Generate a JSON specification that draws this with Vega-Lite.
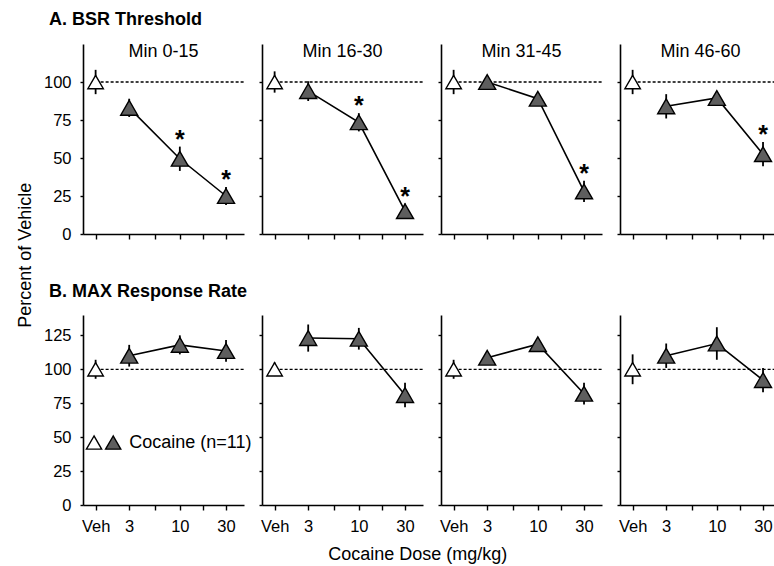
{
"$schema":"https://vega.github.io/schema/vega-lite/v6.json",
"background":"white",
"padding":{"left":16,"top":10,"right":0,"bottom":0},
"autosize":{"type":"pad"},
"data":{"values":[
{"row":"A","period":"Min 0-15","dose":"Veh","v":100,"lo":92,"hi":108,"sig":false},
{"row":"A","period":"Min 0-15","dose":"3","v":83,"lo":77,"hi":89,"sig":false},
{"row":"A","period":"Min 0-15","dose":"10","v":49.5,"lo":41.5,"hi":57.5,"sig":true},
{"row":"A","period":"Min 0-15","dose":"30","v":25,"lo":19,"hi":31,"sig":true},
{"row":"A","period":"Min 16-30","dose":"Veh","v":100,"lo":93,"hi":107,"sig":false},
{"row":"A","period":"Min 16-30","dose":"3","v":94,"lo":87.5,"hi":100.5,"sig":false},
{"row":"A","period":"Min 16-30","dose":"10","v":73.5,"lo":67.5,"hi":79.5,"sig":true},
{"row":"A","period":"Min 16-30","dose":"30","v":15,"lo":10,"hi":20,"sig":true},
{"row":"A","period":"Min 31-45","dose":"Veh","v":100,"lo":92,"hi":108,"sig":false},
{"row":"A","period":"Min 31-45","dose":"3","v":100,"lo":97,"hi":103,"sig":false},
{"row":"A","period":"Min 31-45","dose":"10","v":89,"lo":86,"hi":92,"sig":false},
{"row":"A","period":"Min 31-45","dose":"30","v":28,"lo":21,"hi":35,"sig":true},
{"row":"A","period":"Min 46-60","dose":"Veh","v":100,"lo":92,"hi":108,"sig":false},
{"row":"A","period":"Min 46-60","dose":"3","v":84,"lo":76,"hi":92,"sig":false},
{"row":"A","period":"Min 46-60","dose":"10","v":89.5,"lo":86.5,"hi":92.5,"sig":false},
{"row":"A","period":"Min 46-60","dose":"30","v":52.5,"lo":44.5,"hi":60.5,"sig":true},
{"row":"B","period":"Min 0-15","dose":"Veh","v":100,"lo":93,"hi":107,"sig":false},
{"row":"B","period":"Min 0-15","dose":"3","v":110,"lo":102,"hi":118,"sig":false},
{"row":"B","period":"Min 0-15","dose":"10","v":118,"lo":111,"hi":125,"sig":false},
{"row":"B","period":"Min 0-15","dose":"30","v":113.5,"lo":105.5,"hi":121.5,"sig":false},
{"row":"B","period":"Min 16-30","dose":"Veh","v":100,"lo":95,"hi":105,"sig":false},
{"row":"B","period":"Min 16-30","dose":"3","v":123,"lo":113,"hi":133,"sig":false},
{"row":"B","period":"Min 16-30","dose":"10","v":122.5,"lo":114.5,"hi":130.5,"sig":false},
{"row":"B","period":"Min 16-30","dose":"30","v":81,"lo":72,"hi":90,"sig":false},
{"row":"B","period":"Min 31-45","dose":"Veh","v":100,"lo":93,"hi":107,"sig":false},
{"row":"B","period":"Min 31-45","dose":"3","v":108.5,"lo":105.5,"hi":111.5,"sig":false},
{"row":"B","period":"Min 31-45","dose":"10","v":118.5,"lo":115.5,"hi":121.5,"sig":false},
{"row":"B","period":"Min 31-45","dose":"30","v":82,"lo":74,"hi":90,"sig":false},
{"row":"B","period":"Min 46-60","dose":"Veh","v":100,"lo":89,"hi":111,"sig":false},
{"row":"B","period":"Min 46-60","dose":"3","v":110,"lo":101,"hi":119,"sig":false},
{"row":"B","period":"Min 46-60","dose":"10","v":119,"lo":107,"hi":131,"sig":false},
{"row":"B","period":"Min 46-60","dose":"30","v":92,"lo":83,"hi":101,"sig":false}
]},
"columns":4,
"bounds":"flush",
"spacing":{"row":81,"column":18},
"concat":[
{"width":161,"height":190,
 "title":{"text":"A. BSR Threshold","anchor":"start","frame":"group","dx":-34,"offset":0,"fontSize":18,"fontWeight":"bold","baseline":"alphabetic","color":"black"},
 "transform":[{"filter":"datum.row=='A' && datum.period=='Min 0-15'"},{"calculate":"datum.dose=='Veh' ? 1.35 : toNumber(datum.dose)","as":"x"}],
 "encoding":{"x":{"field":"x","type":"quantitative","scale":{"type":"log","domain":[1,46],"nice":false},"axis":{"values":[1.35,3,5.477,10,17.32,30],"labels":false,"title":null}},
  "y":{"field":"v","type":"quantitative","scale":{"domain":[0,125],"nice":false,"zero":false},"axis":{"values":[0,25,50,75,100],"title":"Percent of Vehicle","titleX":-49,"titleY":210.7}}},
 "layer":[
  {"transform":[{"filter":"datum.dose=='Veh'"}],"mark":{"type":"rule","strokeDash":[3,2],"strokeWidth":1.3,"color":"black"},"encoding":{"x":{"datum":1.35},"x2":{"datum":46},"y":{"datum":100}}},
  {"mark":{"type":"rule","strokeWidth":1.8,"color":"black"},"encoding":{"y":{"field":"lo","type":"quantitative"},"y2":{"field":"hi"}}},
  {"transform":[{"filter":"datum.dose!='Veh'"}],"mark":{"type":"line","color":"black","strokeWidth":1.6}},
  {"transform":[{"filter":"datum.dose=='Veh'"}],"mark":{"type":"point","shape":"triangle-up","filled":true,"fill":"white","stroke":"black","strokeWidth":1.4,"size":240,"opacity":1}},
  {"transform":[{"filter":"datum.dose!='Veh'"}],"mark":{"type":"point","shape":"triangle-up","filled":true,"fill":"#5e5e5e","stroke":"black","strokeWidth":1.4,"size":290,"opacity":1}},
  {"transform":[{"filter":"datum.sig"}],"mark":{"type":"text","text":"*","fontSize":25,"fontWeight":"bold","baseline":"alphabetic","dy":1,"color":"black"},"encoding":{"y":{"field":"hi","type":"quantitative"}}},
  {"transform":[{"filter":"datum.dose=='Veh'"}],"mark":{"type":"text","fontSize":18,"align":"center","baseline":"middle","color":"black"},"encoding":{"x":{"datum":6.78},"y":{"datum":120},"text":{"field":"period"}}}
 ]},
{"width":161,"height":190,
 "transform":[{"filter":"datum.row=='A' && datum.period=='Min 16-30'"},{"calculate":"datum.dose=='Veh' ? 1.35 : toNumber(datum.dose)","as":"x"}],
 "encoding":{"x":{"field":"x","type":"quantitative","scale":{"type":"log","domain":[1,46],"nice":false},"axis":{"values":[1.35,3,5.477,10,17.32,30],"labels":false,"title":null}},
  "y":{"field":"v","type":"quantitative","scale":{"domain":[0,125],"nice":false,"zero":false},"axis":{"values":[0,25,50,75,100],"labels":false,"title":null}}},
 "layer":[
  {"transform":[{"filter":"datum.dose=='Veh'"}],"mark":{"type":"rule","strokeDash":[3,2],"strokeWidth":1.3,"color":"black"},"encoding":{"x":{"datum":1.35},"x2":{"datum":46},"y":{"datum":100}}},
  {"mark":{"type":"rule","strokeWidth":1.8,"color":"black"},"encoding":{"y":{"field":"lo","type":"quantitative"},"y2":{"field":"hi"}}},
  {"transform":[{"filter":"datum.dose!='Veh'"}],"mark":{"type":"line","color":"black","strokeWidth":1.6}},
  {"transform":[{"filter":"datum.dose=='Veh'"}],"mark":{"type":"point","shape":"triangle-up","filled":true,"fill":"white","stroke":"black","strokeWidth":1.4,"size":240,"opacity":1}},
  {"transform":[{"filter":"datum.dose!='Veh'"}],"mark":{"type":"point","shape":"triangle-up","filled":true,"fill":"#5e5e5e","stroke":"black","strokeWidth":1.4,"size":290,"opacity":1}},
  {"transform":[{"filter":"datum.sig"}],"mark":{"type":"text","text":"*","fontSize":25,"fontWeight":"bold","baseline":"alphabetic","dy":1,"color":"black"},"encoding":{"y":{"field":"hi","type":"quantitative"}}},
  {"transform":[{"filter":"datum.dose=='Veh'"}],"mark":{"type":"text","fontSize":18,"align":"center","baseline":"middle","color":"black"},"encoding":{"x":{"datum":6.78},"y":{"datum":120},"text":{"field":"period"}}}
 ]},
{"width":161,"height":190,
 "transform":[{"filter":"datum.row=='A' && datum.period=='Min 31-45'"},{"calculate":"datum.dose=='Veh' ? 1.35 : toNumber(datum.dose)","as":"x"}],
 "encoding":{"x":{"field":"x","type":"quantitative","scale":{"type":"log","domain":[1,46],"nice":false},"axis":{"values":[1.35,3,5.477,10,17.32,30],"labels":false,"title":null}},
  "y":{"field":"v","type":"quantitative","scale":{"domain":[0,125],"nice":false,"zero":false},"axis":{"values":[0,25,50,75,100],"labels":false,"title":null}}},
 "layer":[
  {"transform":[{"filter":"datum.dose=='Veh'"}],"mark":{"type":"rule","strokeDash":[3,2],"strokeWidth":1.3,"color":"black"},"encoding":{"x":{"datum":1.35},"x2":{"datum":46},"y":{"datum":100}}},
  {"mark":{"type":"rule","strokeWidth":1.8,"color":"black"},"encoding":{"y":{"field":"lo","type":"quantitative"},"y2":{"field":"hi"}}},
  {"transform":[{"filter":"datum.dose!='Veh'"}],"mark":{"type":"line","color":"black","strokeWidth":1.6}},
  {"transform":[{"filter":"datum.dose=='Veh'"}],"mark":{"type":"point","shape":"triangle-up","filled":true,"fill":"white","stroke":"black","strokeWidth":1.4,"size":240,"opacity":1}},
  {"transform":[{"filter":"datum.dose!='Veh'"}],"mark":{"type":"point","shape":"triangle-up","filled":true,"fill":"#5e5e5e","stroke":"black","strokeWidth":1.4,"size":290,"opacity":1}},
  {"transform":[{"filter":"datum.sig"}],"mark":{"type":"text","text":"*","fontSize":25,"fontWeight":"bold","baseline":"alphabetic","dy":1,"color":"black"},"encoding":{"y":{"field":"hi","type":"quantitative"}}},
  {"transform":[{"filter":"datum.dose=='Veh'"}],"mark":{"type":"text","fontSize":18,"align":"center","baseline":"middle","color":"black"},"encoding":{"x":{"datum":6.78},"y":{"datum":120},"text":{"field":"period"}}}
 ]},
{"width":161,"height":190,
 "transform":[{"filter":"datum.row=='A' && datum.period=='Min 46-60'"},{"calculate":"datum.dose=='Veh' ? 1.35 : toNumber(datum.dose)","as":"x"}],
 "encoding":{"x":{"field":"x","type":"quantitative","scale":{"type":"log","domain":[1,46],"nice":false},"axis":{"values":[1.35,3,5.477,10,17.32,30],"labels":false,"title":null}},
  "y":{"field":"v","type":"quantitative","scale":{"domain":[0,125],"nice":false,"zero":false},"axis":{"values":[0,25,50,75,100],"labels":false,"title":null}}},
 "layer":[
  {"transform":[{"filter":"datum.dose=='Veh'"}],"mark":{"type":"rule","strokeDash":[3,2],"strokeWidth":1.3,"color":"black"},"encoding":{"x":{"datum":1.35},"x2":{"datum":46},"y":{"datum":100}}},
  {"mark":{"type":"rule","strokeWidth":1.8,"color":"black"},"encoding":{"y":{"field":"lo","type":"quantitative"},"y2":{"field":"hi"}}},
  {"transform":[{"filter":"datum.dose!='Veh'"}],"mark":{"type":"line","color":"black","strokeWidth":1.6}},
  {"transform":[{"filter":"datum.dose=='Veh'"}],"mark":{"type":"point","shape":"triangle-up","filled":true,"fill":"white","stroke":"black","strokeWidth":1.4,"size":240,"opacity":1}},
  {"transform":[{"filter":"datum.dose!='Veh'"}],"mark":{"type":"point","shape":"triangle-up","filled":true,"fill":"#5e5e5e","stroke":"black","strokeWidth":1.4,"size":290,"opacity":1}},
  {"transform":[{"filter":"datum.sig"}],"mark":{"type":"text","text":"*","fontSize":25,"fontWeight":"bold","baseline":"alphabetic","dy":1,"color":"black"},"encoding":{"y":{"field":"hi","type":"quantitative"}}},
  {"transform":[{"filter":"datum.dose=='Veh'"}],"mark":{"type":"text","fontSize":18,"align":"center","baseline":"middle","color":"black"},"encoding":{"x":{"datum":6.78},"y":{"datum":120},"text":{"field":"period"}}}
 ]},
{"width":161,"height":190,
 "title":{"text":"B. MAX Response Rate","anchor":"start","frame":"group","dx":-34,"offset":0,"fontSize":18,"fontWeight":"bold","baseline":"alphabetic","color":"black"},
 "transform":[{"filter":"datum.row=='B' && datum.period=='Min 0-15'"},{"calculate":"datum.dose=='Veh' ? 1.35 : toNumber(datum.dose)","as":"x"}],
 "encoding":{"x":{"field":"x","type":"quantitative","scale":{"type":"log","domain":[1,46],"nice":false},"axis":{"values":[1.35,3,5.477,10,17.32,30],"labelExpr":"datum.value < 2 ? 'Veh' : datum.value == 3 ? '3' : datum.value == 10 ? '10' : datum.value == 30 ? '30' : ''","title":"Cocaine Dose (mg/kg)","titleX":334.3,"titleY":54.3,"titleBaseline":"alphabetic","titleAlign":"center"}},
  "y":{"field":"v","type":"quantitative","scale":{"domain":[0,140],"nice":false,"zero":false},"axis":{"values":[0,25,50,75,100,125],"title":null}}},
 "layer":[
  {"transform":[{"filter":"datum.dose=='Veh'"}],"mark":{"type":"rule","strokeDash":[3,2],"strokeWidth":1.3,"color":"black"},"encoding":{"x":{"datum":1.35},"x2":{"datum":46},"y":{"datum":100}}},
  {"mark":{"type":"rule","strokeWidth":1.8,"color":"black"},"encoding":{"y":{"field":"lo","type":"quantitative"},"y2":{"field":"hi"}}},
  {"transform":[{"filter":"datum.dose!='Veh'"}],"mark":{"type":"line","color":"black","strokeWidth":1.6}},
  {"transform":[{"filter":"datum.dose=='Veh'"}],"mark":{"type":"point","shape":"triangle-up","filled":true,"fill":"white","stroke":"black","strokeWidth":1.4,"size":240,"opacity":1}},
  {"transform":[{"filter":"datum.dose!='Veh'"}],"mark":{"type":"point","shape":"triangle-up","filled":true,"fill":"#5e5e5e","stroke":"black","strokeWidth":1.4,"size":290,"opacity":1}},
  {"transform":[{"filter":"datum.dose=='Veh'"}],"mark":{"type":"point","shape":"triangle-up","filled":true,"fill":"white","stroke":"black","strokeWidth":1.4,"size":230,"opacity":1},"encoding":{"x":{"datum":1.3},"y":{"datum":46}}},
  {"transform":[{"filter":"datum.dose=='Veh'"}],"mark":{"type":"point","shape":"triangle-up","filled":true,"fill":"#5e5e5e","stroke":"black","strokeWidth":1.4,"size":230,"opacity":1},"encoding":{"x":{"datum":2.05},"y":{"datum":46}}},
  {"transform":[{"filter":"datum.dose=='Veh'"}],"mark":{"type":"text","text":"Cocaine (n=11)","fontSize":18,"align":"left","baseline":"middle","color":"black"},"encoding":{"x":{"datum":3},"y":{"datum":46}}}
 ]},
{"width":161,"height":190,
 "transform":[{"filter":"datum.row=='B' && datum.period=='Min 16-30'"},{"calculate":"datum.dose=='Veh' ? 1.35 : toNumber(datum.dose)","as":"x"}],
 "encoding":{"x":{"field":"x","type":"quantitative","scale":{"type":"log","domain":[1,46],"nice":false},"axis":{"values":[1.35,3,5.477,10,17.32,30],"labelExpr":"datum.value < 2 ? 'Veh' : datum.value == 3 ? '3' : datum.value == 10 ? '10' : datum.value == 30 ? '30' : ''","title":null}},
  "y":{"field":"v","type":"quantitative","scale":{"domain":[0,140],"nice":false,"zero":false},"axis":{"values":[0,25,50,75,100,125],"labels":false,"title":null}}},
 "layer":[
  {"transform":[{"filter":"datum.dose=='Veh'"}],"mark":{"type":"rule","strokeDash":[3,2],"strokeWidth":1.3,"color":"black"},"encoding":{"x":{"datum":1.35},"x2":{"datum":46},"y":{"datum":100}}},
  {"mark":{"type":"rule","strokeWidth":1.8,"color":"black"},"encoding":{"y":{"field":"lo","type":"quantitative"},"y2":{"field":"hi"}}},
  {"transform":[{"filter":"datum.dose!='Veh'"}],"mark":{"type":"line","color":"black","strokeWidth":1.6}},
  {"transform":[{"filter":"datum.dose=='Veh'"}],"mark":{"type":"point","shape":"triangle-up","filled":true,"fill":"white","stroke":"black","strokeWidth":1.4,"size":240,"opacity":1}},
  {"transform":[{"filter":"datum.dose!='Veh'"}],"mark":{"type":"point","shape":"triangle-up","filled":true,"fill":"#5e5e5e","stroke":"black","strokeWidth":1.4,"size":290,"opacity":1}}
 ]},
{"width":161,"height":190,
 "transform":[{"filter":"datum.row=='B' && datum.period=='Min 31-45'"},{"calculate":"datum.dose=='Veh' ? 1.35 : toNumber(datum.dose)","as":"x"}],
 "encoding":{"x":{"field":"x","type":"quantitative","scale":{"type":"log","domain":[1,46],"nice":false},"axis":{"values":[1.35,3,5.477,10,17.32,30],"labelExpr":"datum.value < 2 ? 'Veh' : datum.value == 3 ? '3' : datum.value == 10 ? '10' : datum.value == 30 ? '30' : ''","title":null}},
  "y":{"field":"v","type":"quantitative","scale":{"domain":[0,140],"nice":false,"zero":false},"axis":{"values":[0,25,50,75,100,125],"labels":false,"title":null}}},
 "layer":[
  {"transform":[{"filter":"datum.dose=='Veh'"}],"mark":{"type":"rule","strokeDash":[3,2],"strokeWidth":1.3,"color":"black"},"encoding":{"x":{"datum":1.35},"x2":{"datum":46},"y":{"datum":100}}},
  {"mark":{"type":"rule","strokeWidth":1.8,"color":"black"},"encoding":{"y":{"field":"lo","type":"quantitative"},"y2":{"field":"hi"}}},
  {"transform":[{"filter":"datum.dose!='Veh'"}],"mark":{"type":"line","color":"black","strokeWidth":1.6}},
  {"transform":[{"filter":"datum.dose=='Veh'"}],"mark":{"type":"point","shape":"triangle-up","filled":true,"fill":"white","stroke":"black","strokeWidth":1.4,"size":240,"opacity":1}},
  {"transform":[{"filter":"datum.dose!='Veh'"}],"mark":{"type":"point","shape":"triangle-up","filled":true,"fill":"#5e5e5e","stroke":"black","strokeWidth":1.4,"size":290,"opacity":1}}
 ]},
{"width":161,"height":190,
 "transform":[{"filter":"datum.row=='B' && datum.period=='Min 46-60'"},{"calculate":"datum.dose=='Veh' ? 1.35 : toNumber(datum.dose)","as":"x"}],
 "encoding":{"x":{"field":"x","type":"quantitative","scale":{"type":"log","domain":[1,46],"nice":false},"axis":{"values":[1.35,3,5.477,10,17.32,30],"labelExpr":"datum.value < 2 ? 'Veh' : datum.value == 3 ? '3' : datum.value == 10 ? '10' : datum.value == 30 ? '30' : ''","title":null}},
  "y":{"field":"v","type":"quantitative","scale":{"domain":[0,140],"nice":false,"zero":false},"axis":{"values":[0,25,50,75,100,125],"labels":false,"title":null}}},
 "layer":[
  {"transform":[{"filter":"datum.dose=='Veh'"}],"mark":{"type":"rule","strokeDash":[3,2],"strokeWidth":1.3,"color":"black"},"encoding":{"x":{"datum":1.35},"x2":{"datum":46},"y":{"datum":100}}},
  {"mark":{"type":"rule","strokeWidth":1.8,"color":"black"},"encoding":{"y":{"field":"lo","type":"quantitative"},"y2":{"field":"hi"}}},
  {"transform":[{"filter":"datum.dose!='Veh'"}],"mark":{"type":"line","color":"black","strokeWidth":1.6}},
  {"transform":[{"filter":"datum.dose=='Veh'"}],"mark":{"type":"point","shape":"triangle-up","filled":true,"fill":"white","stroke":"black","strokeWidth":1.4,"size":240,"opacity":1}},
  {"transform":[{"filter":"datum.dose!='Veh'"}],"mark":{"type":"point","shape":"triangle-up","filled":true,"fill":"#5e5e5e","stroke":"black","strokeWidth":1.4,"size":290,"opacity":1}}
 ]}
],
"config":{"font":"Liberation Sans","view":{"stroke":null},
 "title":{"font":"Liberation Sans"},
 "axis":{"domainColor":"black","domainWidth":1.6,"tickColor":"black","tickWidth":1.4,"labelColor":"black","labelFontSize":16.5,"labelFont":"Liberation Sans","titleFont":"Liberation Sans","titleFontSize":18,"titleFontWeight":"normal","titleColor":"black","grid":false},
 "axisX":{"tickSize":5,"labelPadding":8},
 "axisY":{"tickSize":3,"labelPadding":9}}
}
